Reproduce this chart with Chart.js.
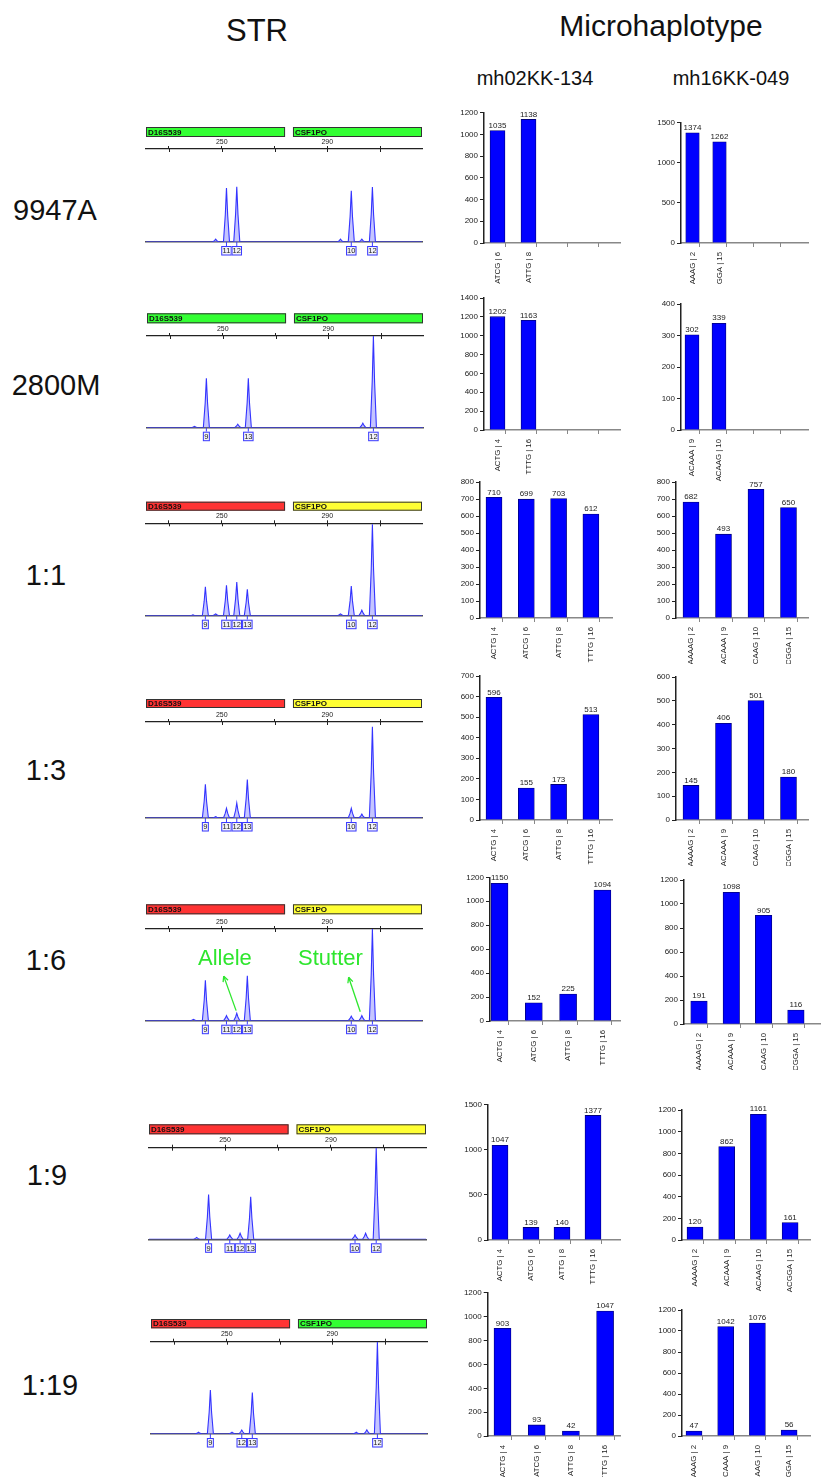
<!DOCTYPE html>
<html><head><meta charset="utf-8">
<script src="https://cdn.jsdelivr.net/npm/chart.js@4/dist/chart.umd.min.js"></script>
<style>
html,body{margin:0;padding:0;background:#fff;}
body{width:827px;height:1477px;position:relative;overflow:hidden;font-family:"Liberation Sans",Arial,sans-serif;}
.t{position:absolute;white-space:nowrap;color:#111;transform:translate(-50%,-50%);line-height:1;}
canvas{position:absolute;}
</style></head><body>
<div class="t" style="left:257px;top:30px;font-size:31px">STR</div>
<div class="t" style="left:661px;top:26px;font-size:30px">Microhaplotype</div>
<div class="t" style="left:535px;top:78px;font-size:20px">mh02KK-134</div>
<div class="t" style="left:731px;top:78px;font-size:20px">mh16KK-049</div>
<script>
// ---------------- DATA ----------------
const sampleNames = ["9947A","2800M","1:1","1:3","1:6","1:9","1:19"];

// STR electropherograms
const strLoci = ["D16S539","CSF1PO"];
const strLociBp = [[221.3,274],[277,325.9]];
const strRange = [221.3,325.9];
const strRulerTicks = [230,250,270,290,310];
const strRulerLabels = [250,290];
const strPeakBp = [
  [247.7,251.8,255.7,295.0,299.1,303.1,307.1],
  [239.3,243.8,255.7,259.7,303.1,307.1],
  [239.1,243.8,247.7,251.8,255.7,259.7,295.0,299.1,303.1,307.1],
  [243.8,247.7,251.8,255.7,259.7,299.1,303.1,307.1],
  [239.3,243.8,251.8,255.7,259.7,299.1,303.1,307.1],
  [239.3,243.8,251.8,255.7,259.7,299.1,303.1,307.1],
  [239.3,243.8,252.0,255.7,259.7,299.1,303.1,307.1]
];
const strPeakH = [
  [3,58,59.5,3,55,3,59],
  [1.5,54,3.7,54,5,100],
  [1,31.4,2,33,36.5,28.6,2,32,6,99],
  [35,1.5,10,15.6,40,10,4,95],
  [1.5,44,5.5,8,49,5,5.5,100],
  [2,49,4.7,6.5,46.5,4.7,6.5,100],
  [2,47.7,2,4.3,45,2,4.5,100]
];
const strAlleleBp = [
  [251.8,255.7,299.1,307.1],
  [243.8,259.7,307.1],
  [243.8,251.8,255.7,259.7,299.1,307.1],
  [243.8,251.8,255.7,259.7,299.1,307.1],
  [243.8,251.8,255.7,259.7,299.1,307.1],
  [243.8,251.8,255.7,259.7,299.1,307.1],
  [243.8,255.7,259.7,307.1]
];
const strAlleleLbl = [
  ["11","12","10","12"],
  ["9","13","12"],
  ["9","11","12","13","10","12"],
  ["9","11","12","13","10","12"],
  ["9","11","12","13","10","12"],
  ["9","11","12","13","10","12"],
  ["9","12","13","12"]
];
const strNotePanel = 4;
const strNoteText = ["Allele","Stutter"];
const strNoteBp = [251.2,291.2];
const strNoteH = [67,67];
const strArrowFrom = [[255.45,11],[302.5,9.8]];
const strArrowTo = [[250.76,48.6],[298.1,47.3]];

// Microhaplotype read counts
const mh02Cats = [
  ["ATCG | 6","ATTG | 8","",""],
  ["ACTG | 4","TTTG | 16","",""],
  ["ACTG | 4","ATCG | 6","ATTG | 8","TTTG | 16"],
  ["ACTG | 4","ATCG | 6","ATTG | 8","TTTG | 16"],
  ["ACTG | 4","ATCG | 6","ATTG | 8","TTTG | 16"],
  ["ACTG | 4","ATCG | 6","ATTG | 8","TTTG | 16"],
  ["ACTG | 4","ATCG | 6","ATTG | 8","TTTG | 16"]
];
const mh02Vals = [[1035,1138],[1202,1163],[710,699,703,612],[596,155,173,513],[1150,152,225,1094],[1047,139,140,1377],[903,93,42,1047]];
const mh02Max = [1200,1400,800,700,1200,1500,1200];
const mh02Step = [200,200,100,100,200,500,200];

const mh16Cats = [
  ["AAAAG | 2","ACGGA | 15","",""],
  ["ACAAA | 9","ACAAG | 10","",""],
  ["AAAAG | 2","ACAAA | 9","ACAAG | 10","ACGGA | 15"],
  ["AAAAG | 2","ACAAA | 9","ACAAG | 10","ACGGA | 15"],
  ["AAAAG | 2","ACAAA | 9","ACAAG | 10","ACGGA | 15"],
  ["AAAAG | 2","ACAAA | 9","ACAAG | 10","ACGGA | 15"],
  ["AAAAG | 2","ACAAA | 9","ACAAG | 10","ACGGA | 15"]
];
const mh16Vals = [[1374,1262],[302,339],[682,493,757,650],[145,406,501,180],[191,1098,905,116],[120,862,1161,161],[47,1042,1076,56]];
const mh16Max = [1500,400,800,600,1200,1200,1200];
const mh16Step = [500,100,100,100,200,200,200];

// ---------------- LAYOUT / STYLE ----------------
const rowLabelPos = [[55,210],[56,385],[46,575],[46,770],[46,960],[47,1175],[50,1385]];
const strColors = [["#33ff33","#33ff33"],["#33ff33","#33ff33"],["#ff3333","#ffff33"],["#ff3333","#ffff33"],["#ff3333","#ffff33"],["#ff3333","#ffff33"],["#ff3333","#33ff33"]];
const strLayout = [
  {L:146,R:422,ruler:149,base:242,hTop:127,hBot:137},
  {L:147,R:423,ruler:336,base:427.7,hTop:313.3,hBot:323.3},
  {L:146,R:422,ruler:523.3,base:615.7,hTop:501.7,hBot:510.7},
  {L:146,R:422,ruler:722,base:818,hTop:699,hBot:708},
  {L:146,R:422,ruler:929,base:1020.7,hTop:904.3,hBot:914.3},
  {L:149,R:426,ruler:1147.7,base:1239.3,hTop:1124.3,hBot:1134.3},
  {L:151,R:427,ruler:1341.7,base:1434,hTop:1319,hBot:1328.3}
];
const mh02Layout = [
  {ax:484,top:112.7,zero:243.3,c0:497.5,slot:31,bw:15,end:620,clip:286},
  {ax:484,top:298,zero:430,c0:497.5,slot:31,bw:15,end:620},
  {ax:480,top:482,zero:618,c0:494,slot:32.3,bw:16,end:612},
  {ax:480,top:676,zero:820,c0:494,slot:32.3,bw:16,end:612},
  {ax:490,top:877.3,zero:1021,c0:499.5,slot:34.3,bw:17,end:620},
  {ax:488,top:1104.3,zero:1240,c0:500,slot:31,bw:16,end:620},
  {ax:487.7,top:1292.9,zero:1435.7,c0:502.5,slot:34.2,bw:17,end:620}
];
const mh16Layout = [
  {ax:681,top:122.7,zero:243.3,c0:692.5,slot:27,bw:13.5,end:808,clip:284},
  {ax:681,top:304,zero:430,c0:692,slot:27,bw:14,end:808},
  {ax:676,top:482,zero:618,c0:691,slot:32.5,bw:16,end:808,clip:664},
  {ax:676,top:677,zero:820,c0:691,slot:32.5,bw:16,end:808,clip:866},
  {ax:684,top:880,zero:1023.7,c0:699,slot:32.3,bw:16.5,end:820,clip:1070},
  {ax:682,top:1110,zero:1240,c0:695,slot:31.7,bw:16,end:810},
  {ax:682,top:1310,zero:1436,c0:694,slot:31.7,bw:16,end:810}
];

const FONT = '"Liberation Sans", Arial, sans-serif';
Chart.defaults.font.family = FONT;
Chart.defaults.color = '#222';

sampleNames.forEach((n,i)=>{
  const d=document.createElement('div'); d.className='t';
  d.style.cssText=`left:${rowLabelPos[i][0]}px;top:${rowLabelPos[i][1]}px;font-size:29px`;
  d.textContent=n; document.body.appendChild(d);
});

function addCanvas(left,top,w,h,clipH){
  const wrap=document.createElement('div');
  wrap.style.cssText=`position:absolute;left:${left}px;top:${top}px;width:${w}px;height:${clipH||h}px;overflow:hidden`;
  const cv=document.createElement('canvas'); cv.width=w; cv.height=h;
  cv.style.cssText=`left:0;top:0;width:${w}px;height:${h}px`;
  wrap.appendChild(cv); document.body.appendChild(wrap); return cv;
}

// ---------------- STR panels ----------------
function traceFrom(bps,hs){
  const pk=bps.map((b,i)=>[b,hs[i]]).sort((a,b)=>a[0]-b[0]);
  const pts=[{x:strRange[0],y:0}];
  pk.forEach(([b,h])=>{pts.push({x:b-1.15,y:0},{x:b-0.45,y:h*0.5},{x:b,y:h},{x:b+0.45,y:h*0.5},{x:b+1.15,y:0});});
  pts.push({x:strRange[1],y:0});
  return pts;
}
function makeStr(i){
  const Lo=strLayout[i], AXH=12;
  const cl=Math.round(Lo.L-4), ct=Math.round(Lo.hTop-3);
  const W=Math.round(Lo.R-Lo.L+8), H=Math.round(Lo.base+22-ct);
  const cv=addCanvas(cl,ct,W,H);
  const off=Lo.L-cl;
  const deco={id:'deco'+i, afterDraw(ch){
    const c=ch.ctx, xs=ch.scales.x, ys=ch.scales.y;
    c.save();
    strLoci.forEach((nm,k)=>{
      const x1=xs.getPixelForValue(strLociBp[k][0]), x2=xs.getPixelForValue(strLociBp[k][1]);
      const y1=Lo.hTop-ct, hh=Lo.hBot-Lo.hTop;
      c.fillStyle=strColors[i][k]; c.fillRect(x1,y1,x2-x1,hh);
      c.strokeStyle='#333'; c.lineWidth=1; c.strokeRect(x1+0.5,y1+0.5,x2-x1-1,hh-1);
      c.fillStyle='#111'; c.font='bold 8px '+FONT; c.textBaseline='middle'; c.textAlign='left';
      c.fillText(nm,x1+2,y1+hh/2+0.5);
    });
    const ry=ch.chartArea.top;
    c.strokeStyle='#222'; c.lineWidth=1;
    strRulerTicks.forEach(v=>{const x=Math.round(xs.getPixelForValue(v))+0.5; c.beginPath(); c.moveTo(x,ry); c.lineTo(x,ry+3); c.stroke();});
    const by=ch.chartArea.bottom;
    c.font='7.5px '+FONT; c.textAlign='center'; c.textBaseline='middle';
    strAlleleBp[i].forEach((b,k)=>{
      const x=xs.getPixelForValue(b), t=strAlleleLbl[i][k];
      const bw=t.length>1?10.5:7, bh=9.5, top=by+4;
      c.strokeStyle='#3a3aff'; c.lineWidth=1;
      c.beginPath(); c.moveTo(x,by); c.lineTo(x,top); c.stroke();
      c.fillStyle='#f2f2f8'; c.fillRect(x-bw/2,top,bw,bh);
      c.strokeRect(x-bw/2+0.5,top+0.5,bw-1,bh-1);
      c.fillStyle='#222'; c.fillText(t,x,top+bh/2+0.5);
    });
    if(i===strNotePanel){
      c.fillStyle='#2ee62e'; c.strokeStyle='#2ee62e'; c.font='22px '+FONT; c.textBaseline='middle';
      strNoteText.forEach((t,k)=>{
        c.fillText(t,xs.getPixelForValue(strNoteBp[k]),ys.getPixelForValue(strNoteH[k]));
        const x1=xs.getPixelForValue(strArrowFrom[k][0]), y1=ys.getPixelForValue(strArrowFrom[k][1]);
        const x2=xs.getPixelForValue(strArrowTo[k][0]), y2=ys.getPixelForValue(strArrowTo[k][1]);
        c.lineWidth=1.3; c.beginPath(); c.moveTo(x1,y1); c.lineTo(x2,y2); c.stroke();
        const a=Math.atan2(y2-y1,x2-x1), L=6;
        c.beginPath(); c.moveTo(x2,y2);
        c.lineTo(x2-L*Math.cos(a-0.45),y2-L*Math.sin(a-0.45));
        c.moveTo(x2,y2);
        c.lineTo(x2-L*Math.cos(a+0.45),y2-L*Math.sin(a+0.45)); c.stroke();
      });
    }
    c.restore();
  }};
  new Chart(cv,{
    type:'line',
    data:{datasets:[{data:traceFrom(strPeakBp[i],strPeakH[i]),borderColor:'#3434ff',borderWidth:1.1,
      backgroundColor:'rgba(140,140,255,0.5)',fill:'origin',pointRadius:0,tension:0,xAxisID:'x',yAxisID:'y'}]},
    options:{responsive:false,animation:false,devicePixelRatio:1,
      layout:{padding:{left:off,right:W-off-(Lo.R-Lo.L),top:(Lo.ruler-AXH)-ct,bottom:H-(Lo.base-ct)}},
      plugins:{legend:{display:false},tooltip:{enabled:false}},
      scales:{
        x:{type:'linear',position:'bottom',min:strRange[0],max:strRange[1],z:1,afterFit:s=>{s.height=0;},
           ticks:{display:false},grid:{display:false},border:{color:'#555',width:1.5}},
        x2:{type:'linear',position:'top',min:strRange[0],max:strRange[1],afterFit:s=>{s.height=AXH;},
           afterBuildTicks:s=>{s.ticks=strRulerTicks.map(v=>({value:v}));},
           ticks:{autoSkip:false,maxRotation:0,font:{size:7},color:'#222',padding:0,
             callback:v=>strRulerLabels.includes(v)?String(v):''},
           grid:{drawOnChartArea:false,tickLength:3,color:'#222',lineWidth:1},border:{color:'#222',width:1.3}},
        y:{display:false,min:0,max:100}
      }},
    plugins:[deco]
  });
}

// ---------------- Bar charts ----------------
function makeBar(cats,vals,yMax,step,Lo){
  const YW=30,XH=54,PT=10;
  const left=Math.round(Lo.ax-YW), top=Math.round(Lo.top-PT);
  const W=Math.round(Lo.end-left+3);
  const H=Math.round(Lo.zero-top+XH);
  const cv=addCanvas(left,top,W,H,Lo.clip?Math.min(H,Lo.clip-top):0);
  const xmin=-(Lo.c0-Lo.ax)/Lo.slot, xmax=xmin+(Lo.end-Lo.ax)/Lo.slot;
  const yw=Lo.ax-left;
  const deco={id:'bd',afterDraw(ch){
    const c=ch.ctx, xs=ch.scales.x, meta=ch.getDatasetMeta(0);
    c.save();
    c.fillStyle='#222'; c.font='8px '+FONT; c.textAlign='center'; c.textBaseline='bottom';
    meta.data.forEach((el,k)=>{c.fillText(String(vals[k]),el.x,el.y-1);});
    c.strokeStyle='#888'; c.lineWidth=1;
    const b=ch.chartArea.bottom;
    cats.forEach((_,k)=>{const x=Math.round(xs.getPixelForValue(k)+Lo.bw/2)+0.5; c.beginPath(); c.moveTo(x,b); c.lineTo(x,b+4); c.stroke();});
    c.restore();
  }};
  new Chart(cv,{
    type:'bar',
    data:{datasets:[{data:vals.map((v,k)=>({x:k,y:v})),backgroundColor:'#0000ff',borderColor:'#00007a',borderWidth:0.8,barThickness:Lo.bw}]},
    options:{responsive:false,animation:false,devicePixelRatio:1,
      layout:{padding:{left:0,right:W-yw-(Lo.end-Lo.ax),top:Lo.top-top,bottom:0}},
      plugins:{legend:{display:false},tooltip:{enabled:false}},
      scales:{
        x:{type:'linear',offset:false,min:xmin,max:xmax,afterFit:s=>{s.height=XH;},
           afterBuildTicks:s=>{s.ticks=cats.map((_,k)=>({value:k}));},
           ticks:{autoSkip:false,minRotation:90,maxRotation:90,font:{size:7.8},color:'#222',padding:1,callback:(v,k)=>cats[k]},
           grid:{display:false,offset:false},border:{color:'#888',width:1.5}},
        y:{min:0,max:yMax,afterFit:s=>{s.width=yw;},
           ticks:{stepSize:step,font:{size:8},color:'#222',padding:2,callback:v=>String(v)},
           grid:{drawOnChartArea:false,tickLength:4,color:'#222',lineWidth:1},border:{color:'#222',width:1.5}}
      }},
    plugins:[deco]
  });
}

for(let i=0;i<7;i++){
  makeStr(i);
  makeBar(mh02Cats[i],mh02Vals[i],mh02Max[i],mh02Step[i],mh02Layout[i]);
  makeBar(mh16Cats[i],mh16Vals[i],mh16Max[i],mh16Step[i],mh16Layout[i]);
}
</script>
</body></html>
